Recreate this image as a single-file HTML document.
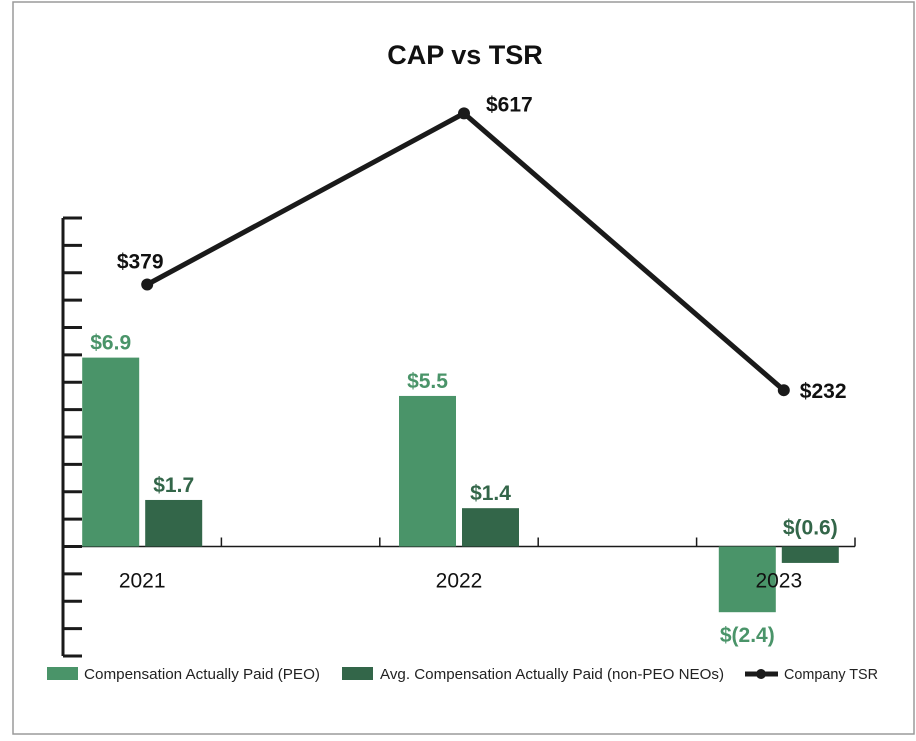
<!DOCTYPE html>
<html><head><meta charset="utf-8"><style>
body{margin:0;background:#fff;width:916px;height:736px;overflow:hidden}
svg{font-family:"Liberation Sans",sans-serif}
</style></head><body>
<svg id="chart" width="916" height="736">
<rect x="13" y="2" width="901" height="732" fill="#fff" stroke="#9a9a9a" stroke-width="1.5"/>
<text x="465" y="64" text-anchor="middle" font-size="27" font-weight="bold" fill="#111">CAP vs TSR</text>
<g id="axes"></g><g id="bars"></g><g id="tsrline"></g>
<g font-size="15" fill="#222">
<rect x="47" y="667" width="31" height="13" fill="#4a9469"/>
<text x="84" y="679" textLength="236" lengthAdjust="spacingAndGlyphs">Compensation Actually Paid (PEO)</text>
<rect x="342" y="667" width="31" height="13" fill="#336649"/>
<text x="380" y="679" textLength="344" lengthAdjust="spacingAndGlyphs">Avg. Compensation Actually Paid (non-PEO NEOs)</text>
<line x1="745" y1="674" x2="778" y2="674" stroke="#1a1a1a" stroke-width="5"/>
<circle cx="761" cy="674" r="5" fill="#1a1a1a"/>
<text x="784" y="679" textLength="94" lengthAdjust="spacingAndGlyphs">Company TSR</text>
</g>
</svg>
<script>
const categories=["2021","2022","2023"];
const peoValues=[6.9,5.5,-2.4];
const peoLabels=["$6.9","$5.5","$(2.4)"];
const nonPeoValues=[1.7,1.4,-0.6];
const nonPeoLabels=["$1.7","$1.4","$(0.6)"];
const tsrValues=[379,617,232];
const tsrLabels=["$379","$617","$232"];
const NS="http://www.w3.org/2000/svg";
function mk(tag,attrs,parent,text){const e=document.createElementNS(NS,tag);for(const k in attrs)e.setAttribute(k,attrs[k]);if(text!==undefined)e.textContent=text;parent.appendChild(e);return e;}
const yMin=-4,yMax=12,plotTop=218,plotBot=656;
function yScale(v){return plotBot-(v-yMin)/(yMax-yMin)*(plotBot-plotTop);}
function y2Scale(v){return 557-v*0.719;}
const axL=63,axR=855,slot=(axR-axL)/5;
function cx(i){return axL+slot/2+2*slot*i+(i===2?3:0);}
const axes=document.getElementById('axes');
const ya=mk('line',{x1:axL,y1:plotTop,x2:axL,y2:plotBot,stroke:'#1a1a1a','stroke-width':3},axes);


for(let v=yMin;v<=yMax;v++){const t=mk('line',{x1:axL,y1:yScale(v),x2:82,y2:yScale(v),stroke:'#1a1a1a','stroke-width':3},axes);

}
const xa=mk('line',{x1:axL,y1:yScale(0),x2:axR,y2:yScale(0),stroke:'#1a1a1a','stroke-width':1.5},axes);


for(let k=1;k<=5;k++){const t=mk('line',{x1:axL+slot*k,y1:yScale(0)-9,x2:axL+slot*k,y2:yScale(0),stroke:'#1a1a1a','stroke-width':1.5},axes);

}
const bars=document.getElementById('bars');
categories.forEach((c,i)=>{
 const c0=cx(i);
 [[peoValues,peoLabels,'#4a9469',c0-60,'peo'],[nonPeoValues,nonPeoLabels,'#336649',c0+3,'non-peo']].forEach(([vals,labs,col,x0,nm])=>{
  const v=vals[i];const yt=Math.min(yScale(v),yScale(0)),h=Math.abs(yScale(v)-yScale(0));
  const r=mk('rect',{x:x0,y:yt,width:57,height:h,fill:col},bars);
  
  
  const ly=v>=0?yScale(v)-8:(nm==='peo'?yScale(v)+30:yScale(0)-12);
  const t=mk('text',{x:x0+28.5,y:ly,'text-anchor':'middle','font-size':21,'font-weight':'bold',fill:col},bars,labs[i]);
  
  
 });
 const yl=mk('text',{x:c0,y:yScale(0)+41,'text-anchor':'middle','font-size':21,fill:'#111'},bars,c);
 
 
});
const lineG=document.getElementById('tsrline');
const pts=tsrValues.map((v,i)=>[cx(i)+5,y2Scale(v)]);
const pl=mk('polyline',{points:pts.map(p=>p.join(',')).join(' '),fill:'none',stroke:'#1a1a1a','stroke-width':5,'stroke-linejoin':'round'},lineG);


const labOff=[[-7,-16,'middle'],[22,-2,'start'],[16,8,'start']];
pts.forEach((p,i)=>{
 const d=mk('circle',{cx:p[0],cy:p[1],r:6,fill:'#1a1a1a'},lineG);
 
 
 const o=labOff[i];
 const t=mk('text',{x:p[0]+o[0],y:p[1]+o[1],'text-anchor':o[2],'font-size':21,'font-weight':'bold',fill:'#111'},lineG,tsrLabels[i]);
 
 
});
</script>
</body></html>
